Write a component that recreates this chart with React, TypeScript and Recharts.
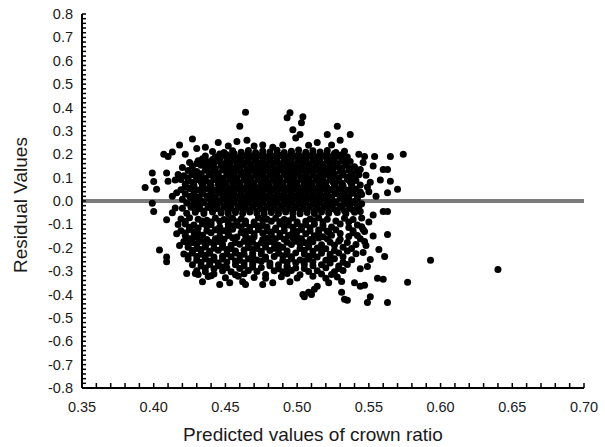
import { ScatterChart, Scatter, XAxis, YAxis, ReferenceLine } from 'recharts'

// tick labels as printed on the figure
const xTickLabels = ['0.35', '0.40', '0.45', '0.50', '0.55', '0.60', '0.65', '0.70']
const yTickLabels = ['0.8', '0.7', '0.6', '0.5', '0.4', '0.3', '0.2', '0.1', '0.0', '-0.1', '-0.2', '-0.3', '-0.4', '-0.5', '-0.6', '-0.7', '-0.8']

// [predicted crown ratio, residual], dense band above zero
const upperCloud: [number, number][] = [
  [0.441,0.212],[0.449,0.207],[0.455,0.215],[0.461,0.209],[0.466,0.216],[0.471,0.208],[0.476,0.214],[0.481,0.21],[0.486,0.217],[0.491,0.208],[0.496,0.213],[0.501,0.218],[0.506,0.209],[0.511,0.215],[0.516,0.21],[0.521,0.216],[0.527,0.208],[0.533,0.213],
  [0.436,0.192],[0.443,0.188],[0.448,0.195],[0.453,0.19],[0.458,0.186],[0.463,0.193],[0.468,0.189],[0.473,0.194],[0.478,0.187],[0.483,0.191],[0.488,0.195],[0.493,0.188],[0.498,0.192],[0.503,0.187],[0.508,0.194],[0.513,0.189],[0.518,0.193],[0.523,0.187],[0.529,0.192],[0.535,0.188],
  [0.431,0.172],[0.438,0.168],[0.445,0.171],[0.451,0.166],[0.456,0.173],[0.461,0.169],[0.466,0.166],[0.471,0.172],[0.476,0.168],[0.481,0.173],[0.486,0.167],[0.491,0.171],[0.496,0.166],[0.501,0.172],[0.506,0.168],[0.511,0.173],[0.516,0.167],[0.521,0.171],[0.526,0.166],[0.531,0.172],[0.537,0.169],
  [0.427,0.148],[0.433,0.153],[0.44,0.149],[0.447,0.152],[0.453,0.147],[0.458,0.151],[0.463,0.155],[0.468,0.148],[0.473,0.152],[0.478,0.147],[0.483,0.153],[0.488,0.149],[0.493,0.152],[0.498,0.146],[0.503,0.151],[0.508,0.148],[0.513,0.153],[0.518,0.147],[0.523,0.151],[0.528,0.148],[0.534,0.153],[0.54,0.147],
  [0.424,0.13],[0.43,0.126],[0.436,0.132],[0.442,0.128],[0.448,0.133],[0.454,0.127],[0.459,0.131],[0.464,0.126],[0.469,0.132],[0.474,0.128],[0.479,0.131],[0.484,0.127],[0.489,0.133],[0.494,0.129],[0.499,0.126],[0.504,0.132],[0.509,0.128],[0.514,0.133],[0.519,0.127],[0.524,0.131],[0.53,0.126],[0.536,0.132],[0.542,0.128],
  [0.421,0.108],[0.427,0.112],[0.433,0.107],[0.439,0.111],[0.445,0.106],[0.451,0.112],[0.456,0.108],[0.461,0.113],[0.466,0.107],[0.471,0.111],[0.476,0.106],[0.481,0.112],[0.486,0.108],[0.491,0.113],[0.496,0.107],[0.501,0.111],[0.506,0.106],[0.511,0.112],[0.516,0.108],[0.521,0.113],[0.526,0.107],[0.532,0.111],[0.538,0.106],[0.543,0.112],
  [0.419,0.092],[0.424,0.087],[0.43,0.091],[0.436,0.086],[0.442,0.092],[0.448,0.088],[0.453,0.093],[0.458,0.087],[0.463,0.091],[0.468,0.086],[0.473,0.092],[0.478,0.088],[0.483,0.093],[0.488,0.087],[0.493,0.091],[0.498,0.086],[0.503,0.092],[0.508,0.088],[0.513,0.093],[0.518,0.087],[0.523,0.091],[0.529,0.086],[0.535,0.092],[0.541,0.088],
  [0.422,0.072],[0.428,0.067],[0.434,0.071],[0.44,0.066],[0.445,0.072],[0.45,0.068],[0.455,0.073],[0.46,0.067],[0.465,0.071],[0.47,0.066],[0.475,0.072],[0.48,0.068],[0.485,0.073],[0.49,0.067],[0.495,0.071],[0.5,0.066],[0.505,0.072],[0.51,0.068],[0.515,0.073],[0.52,0.067],[0.526,0.071],[0.532,0.066],[0.538,0.072],[0.544,0.068],
  [0.419,0.048],[0.425,0.053],[0.431,0.047],[0.437,0.052],[0.443,0.046],[0.448,0.051],[0.453,0.047],[0.458,0.053],[0.463,0.048],[0.468,0.052],[0.473,0.046],[0.478,0.051],[0.483,0.047],[0.488,0.053],[0.493,0.048],[0.498,0.052],[0.503,0.046],[0.508,0.051],[0.513,0.047],[0.518,0.053],[0.523,0.048],[0.529,0.052],[0.535,0.046],[0.541,0.051],
  [0.422,0.031],[0.428,0.026],[0.434,0.032],[0.44,0.027],[0.446,0.033],[0.451,0.028],[0.456,0.032],[0.461,0.026],[0.466,0.031],[0.471,0.027],[0.476,0.033],[0.481,0.028],[0.486,0.032],[0.491,0.026],[0.496,0.031],[0.501,0.027],[0.506,0.033],[0.511,0.028],[0.516,0.032],[0.521,0.026],[0.527,0.031],[0.533,0.027],[0.539,0.033],[0.545,0.028],
  [0.42,0.008],[0.426,0.013],[0.432,0.007],[0.438,0.012],[0.443,0.006],[0.448,0.011],[0.453,0.007],[0.458,0.013],[0.463,0.008],[0.468,0.012],[0.473,0.006],[0.478,0.011],[0.483,0.007],[0.488,0.013],[0.493,0.008],[0.498,0.012],[0.503,0.006],[0.508,0.011],[0.513,0.007],[0.518,0.013],[0.524,0.008],[0.53,0.012],[0.536,0.006],[0.542,0.011],
  [0.423,-0.009],[0.429,-0.013],[0.435,-0.008],[0.441,-0.012],[0.446,-0.007],[0.451,-0.013],[0.456,-0.008],[0.461,-0.012],[0.466,-0.007],[0.471,-0.013],[0.476,-0.008],[0.481,-0.012],[0.486,-0.007],[0.491,-0.013],[0.496,-0.008],[0.501,-0.012],[0.506,-0.007],[0.511,-0.013],[0.516,-0.008],[0.521,-0.012],[0.527,-0.007],[0.533,-0.013],[0.539,-0.008],[0.545,-0.012],
  [0.42,-0.031],[0.426,-0.027],[0.432,-0.033],[0.438,-0.028],[0.444,-0.032],[0.449,-0.026],[0.454,-0.031],[0.459,-0.027],[0.464,-0.033],[0.469,-0.028],[0.474,-0.032],[0.479,-0.026],[0.484,-0.031],[0.489,-0.027],[0.494,-0.033],[0.499,-0.028],[0.504,-0.032],[0.509,-0.026],[0.514,-0.031],[0.519,-0.027],[0.525,-0.033],[0.531,-0.028],[0.537,-0.032],[0.543,-0.027],
  [0.423,-0.052],[0.429,-0.048],[0.435,-0.053],[0.441,-0.047],[0.447,-0.051],[0.452,-0.055],[0.457,-0.049],[0.462,-0.053],[0.467,-0.047],[0.472,-0.052],[0.477,-0.056],[0.482,-0.049],[0.487,-0.053],[0.492,-0.047],[0.497,-0.052],[0.502,-0.055],[0.507,-0.049],[0.512,-0.053],[0.517,-0.047],[0.522,-0.052],[0.528,-0.049],[0.534,-0.054],[0.54,-0.048],
]

// points lying between the rows above, where the cloud is solid black
const upperFill: [number, number][] = [
  [0.446,0.201],[0.451,0.198],[0.456,0.203],[0.461,0.199],[0.466,0.202],[0.471,0.197],[0.476,0.201],[0.481,0.199],[0.486,0.203],[0.491,0.198],[0.496,0.202],[0.501,0.199],[0.506,0.201],[0.511,0.197],[0.516,0.202],[0.521,0.199],[0.526,0.203],[0.531,0.198],
  [0.434,0.181],[0.441,0.178],[0.446,0.182],[0.451,0.179],[0.456,0.183],[0.461,0.178],[0.466,0.181],[0.471,0.177],[0.476,0.182],[0.481,0.179],[0.486,0.183],[0.491,0.178],[0.496,0.181],[0.501,0.177],[0.506,0.182],[0.511,0.179],[0.516,0.183],[0.521,0.178],[0.526,0.181],[0.532,0.179],
  [0.43,0.16],[0.436,0.158],[0.442,0.162],[0.448,0.159],[0.453,0.161],[0.458,0.157],[0.463,0.162],[0.468,0.158],[0.473,0.161],[0.478,0.157],[0.483,0.162],[0.488,0.159],[0.493,0.161],[0.498,0.157],[0.503,0.162],[0.508,0.158],[0.513,0.161],[0.518,0.157],[0.523,0.162],[0.528,0.158],[0.534,0.161],
  [0.437,0.141],[0.443,0.138],[0.449,0.142],[0.455,0.139],[0.46,0.141],[0.465,0.137],[0.47,0.142],[0.475,0.138],[0.48,0.141],[0.485,0.137],[0.49,0.142],[0.495,0.139],[0.5,0.141],[0.505,0.137],[0.51,0.142],[0.515,0.138],[0.52,0.141],[0.525,0.137],[0.531,0.142],[0.537,0.139],
  [0.427,0.12],[0.433,0.117],[0.439,0.121],[0.445,0.118],[0.451,0.122],[0.456,0.119],[0.461,0.121],[0.466,0.117],[0.471,0.122],[0.476,0.118],[0.481,0.121],[0.486,0.117],[0.491,0.122],[0.496,0.119],[0.501,0.121],[0.506,0.117],[0.511,0.122],[0.516,0.118],[0.521,0.121],[0.526,0.117],[0.532,0.122],[0.538,0.119],
  [0.424,0.099],[0.43,0.102],[0.436,0.098],[0.442,0.101],[0.448,0.097],[0.453,0.102],[0.458,0.098],[0.463,0.101],[0.468,0.097],[0.473,0.102],[0.478,0.098],[0.483,0.101],[0.488,0.097],[0.493,0.102],[0.498,0.098],[0.503,0.101],[0.508,0.097],[0.513,0.102],[0.518,0.098],[0.523,0.101],[0.529,0.097],[0.535,0.102],[0.54,0.099],
  [0.427,0.079],[0.433,0.082],[0.439,0.078],[0.445,0.081],[0.45,0.077],[0.455,0.082],[0.46,0.078],[0.465,0.081],[0.47,0.077],[0.475,0.082],[0.48,0.078],[0.485,0.081],[0.49,0.077],[0.495,0.082],[0.5,0.078],[0.505,0.081],[0.51,0.077],[0.515,0.082],[0.52,0.078],[0.525,0.081],[0.531,0.077],[0.537,0.082],
  [0.422,0.06],[0.428,0.057],[0.434,0.061],[0.44,0.058],[0.446,0.062],[0.451,0.059],[0.456,0.061],[0.461,0.057],[0.466,0.062],[0.471,0.058],[0.476,0.061],[0.481,0.057],[0.486,0.062],[0.491,0.058],[0.496,0.061],[0.501,0.057],[0.506,0.062],[0.511,0.058],[0.516,0.061],[0.521,0.057],[0.526,0.062],[0.532,0.058],[0.538,0.061],
  [0.428,0.039],[0.434,0.042],[0.44,0.038],[0.446,0.041],[0.451,0.037],[0.456,0.042],[0.461,0.038],[0.466,0.041],[0.471,0.037],[0.476,0.042],[0.481,0.038],[0.486,0.041],[0.491,0.037],[0.496,0.042],[0.501,0.038],[0.506,0.041],[0.511,0.037],[0.516,0.042],[0.521,0.038],[0.526,0.041],[0.532,0.037],[0.538,0.042],[0.544,0.039],
  [0.425,0.02],[0.431,0.017],[0.437,0.021],[0.443,0.018],[0.449,0.022],[0.454,0.019],[0.459,0.021],[0.464,0.017],[0.469,0.022],[0.474,0.018],[0.479,0.021],[0.484,0.017],[0.489,0.022],[0.494,0.018],[0.499,0.021],[0.504,0.017],[0.509,0.022],[0.514,0.018],[0.519,0.021],[0.524,0.017],[0.53,0.022],[0.536,0.018],[0.542,0.021],
  [0.428,0.0],[0.434,-0.002],[0.44,0.002],[0.446,-0.001],[0.451,0.003],[0.456,-0.002],[0.461,0.001],[0.466,-0.003],[0.471,0.002],[0.476,-0.001],[0.481,0.003],[0.486,-0.002],[0.491,0.001],[0.496,-0.003],[0.501,0.002],[0.506,-0.001],[0.511,0.003],[0.516,-0.002],[0.521,0.001],[0.527,-0.003],[0.533,0.002],[0.54,-0.001],
  [0.426,-0.02],[0.432,-0.018],[0.438,-0.022],[0.444,-0.019],[0.449,-0.021],[0.454,-0.017],[0.459,-0.022],[0.464,-0.018],[0.469,-0.021],[0.474,-0.017],[0.479,-0.022],[0.484,-0.018],[0.489,-0.021],[0.494,-0.017],[0.499,-0.022],[0.504,-0.018],[0.509,-0.021],[0.514,-0.017],[0.519,-0.022],[0.524,-0.018],[0.53,-0.021],[0.536,-0.017],[0.542,-0.02],
  [0.429,-0.04],[0.435,-0.043],[0.441,-0.038],[0.447,-0.042],[0.452,-0.039],[0.457,-0.043],[0.462,-0.038],[0.467,-0.041],[0.472,-0.044],[0.477,-0.039],[0.482,-0.042],[0.487,-0.038],[0.492,-0.043],[0.497,-0.039],[0.502,-0.042],[0.507,-0.038],[0.512,-0.043],[0.517,-0.039],[0.522,-0.041],[0.527,-0.038],[0.533,-0.042],[0.539,-0.039],
]

// patchier band below zero
const lowerCloud: [number, number][] = [
  [0.419,-0.077],[0.425,-0.072],[0.431,-0.078],[0.443,-0.073],[0.449,-0.079],[0.455,-0.074],[0.461,-0.077],[0.473,-0.072],[0.479,-0.078],[0.485,-0.074],[0.491,-0.079],[0.497,-0.073],[0.509,-0.077],[0.515,-0.072],[0.521,-0.078],[0.533,-0.074],[0.539,-0.079],[0.545,-0.073],
  [0.422,-0.098],[0.428,-0.103],[0.434,-0.097],[0.44,-0.102],[0.452,-0.099],[0.458,-0.104],[0.464,-0.097],[0.47,-0.101],[0.476,-0.105],[0.488,-0.098],[0.494,-0.103],[0.5,-0.097],[0.506,-0.102],[0.512,-0.099],[0.518,-0.104],[0.53,-0.098],[0.542,-0.103],
  [0.419,-0.127],[0.425,-0.122],[0.437,-0.128],[0.443,-0.123],[0.449,-0.127],[0.455,-0.121],[0.467,-0.126],[0.473,-0.122],[0.479,-0.128],[0.485,-0.123],[0.491,-0.127],[0.503,-0.122],[0.509,-0.128],[0.515,-0.124],[0.521,-0.129],[0.527,-0.123],[0.539,-0.127],[0.546,-0.122],
  [0.422,-0.148],[0.428,-0.153],[0.434,-0.147],[0.446,-0.152],[0.452,-0.148],[0.458,-0.154],[0.464,-0.149],[0.47,-0.153],[0.482,-0.147],[0.488,-0.152],[0.494,-0.148],[0.5,-0.154],[0.512,-0.149],[0.518,-0.153],[0.524,-0.147],[0.536,-0.152],[0.542,-0.148],
  [0.421,-0.173],[0.427,-0.178],[0.433,-0.172],[0.439,-0.177],[0.445,-0.173],[0.457,-0.178],[0.463,-0.172],[0.469,-0.176],[0.475,-0.179],[0.481,-0.173],[0.493,-0.177],[0.499,-0.172],[0.505,-0.178],[0.511,-0.174],[0.523,-0.177],[0.529,-0.172],[0.535,-0.178],[0.547,-0.173],
  [0.424,-0.198],[0.43,-0.203],[0.436,-0.197],[0.442,-0.202],[0.448,-0.198],[0.454,-0.204],[0.466,-0.199],[0.472,-0.203],[0.478,-0.197],[0.484,-0.202],[0.49,-0.198],[0.502,-0.203],[0.508,-0.197],[0.514,-0.201],[0.52,-0.204],[0.532,-0.198],[0.538,-0.203],
  [0.421,-0.227],[0.427,-0.222],[0.433,-0.228],[0.439,-0.223],[0.451,-0.227],[0.457,-0.222],[0.463,-0.228],[0.469,-0.224],[0.475,-0.227],[0.487,-0.223],[0.493,-0.228],[0.499,-0.222],[0.505,-0.227],[0.517,-0.223],[0.523,-0.228],[0.529,-0.222],[0.541,-0.226],
  [0.424,-0.248],[0.43,-0.253],[0.436,-0.247],[0.442,-0.252],[0.448,-0.248],[0.46,-0.253],[0.466,-0.247],[0.472,-0.252],[0.478,-0.248],[0.49,-0.253],[0.496,-0.247],[0.502,-0.252],[0.508,-0.248],[0.52,-0.253],[0.526,-0.247],[0.538,-0.251],
  [0.427,-0.273],[0.433,-0.278],[0.439,-0.272],[0.445,-0.277],[0.457,-0.273],[0.463,-0.278],[0.469,-0.272],[0.481,-0.277],[0.487,-0.273],[0.493,-0.278],[0.505,-0.272],[0.511,-0.277],[0.517,-0.273],[0.529,-0.278],[0.535,-0.272],
  [0.43,-0.298],[0.436,-0.303],[0.448,-0.298],[0.454,-0.303],[0.466,-0.297],[0.472,-0.302],[0.484,-0.298],[0.49,-0.303],[0.496,-0.297],[0.508,-0.302],[0.514,-0.298],[0.526,-0.303],[0.532,-0.297],
  [0.438,-0.323],[0.45,-0.328],[0.459,-0.322],[0.47,-0.327],[0.478,-0.331],[0.489,-0.324],[0.5,-0.329],[0.511,-0.322],[0.52,-0.33],[0.528,-0.325],
]

const lowerFill: [number, number][] = [
  [0.422,-0.088],[0.434,-0.086],[0.44,-0.09],[0.446,-0.087],[0.458,-0.089],[0.464,-0.086],[0.47,-0.09],[0.482,-0.087],[0.488,-0.089],[0.494,-0.085],[0.5,-0.09],[0.506,-0.087],[0.518,-0.089],[0.527,-0.086],[0.536,-0.09],
  [0.425,-0.112],[0.431,-0.115],[0.446,-0.111],[0.452,-0.114],[0.461,-0.11],[0.467,-0.113],[0.479,-0.111],[0.485,-0.115],[0.497,-0.112],[0.503,-0.11],[0.509,-0.114],[0.524,-0.111],[0.536,-0.113],[0.545,-0.11],
  [0.422,-0.137],[0.431,-0.14],[0.44,-0.136],[0.452,-0.139],[0.461,-0.135],[0.47,-0.14],[0.476,-0.137],[0.488,-0.139],[0.497,-0.136],[0.506,-0.14],[0.515,-0.137],[0.53,-0.139],[0.539,-0.136],
  [0.425,-0.162],[0.437,-0.165],[0.443,-0.161],[0.449,-0.164],[0.467,-0.162],[0.476,-0.165],[0.485,-0.161],[0.491,-0.164],[0.503,-0.162],[0.509,-0.165],[0.521,-0.161],[0.53,-0.164],[0.544,-0.162],
  [0.424,-0.187],[0.436,-0.19],[0.448,-0.186],[0.454,-0.189],[0.46,-0.185],[0.472,-0.19],[0.478,-0.187],[0.487,-0.189],[0.496,-0.186],[0.508,-0.19],[0.517,-0.187],[0.526,-0.189],[0.541,-0.186],
  [0.427,-0.212],[0.439,-0.215],[0.445,-0.211],[0.457,-0.214],[0.463,-0.21],[0.475,-0.215],[0.481,-0.212],[0.493,-0.214],[0.505,-0.211],[0.511,-0.215],[0.526,-0.212],[0.535,-0.214],
  [0.43,-0.237],[0.442,-0.24],[0.448,-0.236],[0.454,-0.239],[0.469,-0.235],[0.478,-0.24],[0.484,-0.237],[0.496,-0.239],[0.508,-0.236],[0.514,-0.24],[0.523,-0.237],[0.532,-0.239],
  [0.433,-0.262],[0.445,-0.265],[0.451,-0.261],[0.463,-0.264],[0.469,-0.26],[0.481,-0.265],[0.493,-0.262],[0.499,-0.264],[0.511,-0.261],[0.523,-0.265],[0.532,-0.262],
  [0.436,-0.287],[0.442,-0.29],[0.451,-0.286],[0.46,-0.289],[0.475,-0.285],[0.487,-0.29],[0.499,-0.287],[0.505,-0.289],[0.52,-0.286],[0.529,-0.289],
  [0.442,-0.312],[0.457,-0.315],[0.463,-0.311],[0.478,-0.314],[0.493,-0.31],[0.502,-0.315],[0.517,-0.312],[0.524,-0.314],
  [0.437,-0.082],[0.452,-0.083],[0.476,-0.082],[0.512,-0.084],[0.437,-0.108],[0.455,-0.106],[0.473,-0.107],[0.491,-0.109],[0.518,-0.115],
  [0.428,-0.132],[0.446,-0.131],[0.464,-0.131],[0.482,-0.133],[0.5,-0.131],[0.522,-0.133],[0.431,-0.158],[0.455,-0.157],[0.479,-0.159],[0.497,-0.157],[0.515,-0.158],
  [0.43,-0.184],[0.442,-0.182],[0.466,-0.183],[0.484,-0.181],[0.502,-0.183],[0.433,-0.208],[0.451,-0.207],[0.469,-0.208],[0.487,-0.206],[0.517,-0.208],
  [0.424,-0.234],[0.436,-0.232],[0.46,-0.233],[0.49,-0.234],[0.511,-0.231],[0.439,-0.258],[0.457,-0.257],[0.475,-0.258],[0.505,-0.257],[0.448,-0.282],[0.469,-0.283],[0.493,-0.282],
]

const leftFringe: [number, number][] = [
  [0.394,0.058],[0.399,0.12],[0.4,0.083],[0.402,0.05],[0.399,-0.01],[0.4,-0.045],[0.404,-0.21],[0.409,-0.24],[0.409,-0.26],
  [0.407,0.2],[0.41,0.19],[0.413,0.21],[0.409,0.12],[0.41,0.085],[0.409,-0.08],[0.413,-0.05],[0.415,0.09],[0.417,0.113],
  [0.42,0.143],[0.422,0.2],[0.425,0.165],[0.413,0.02],[0.416,0.035],[0.415,-0.03],[0.417,-0.1],[0.416,-0.14],[0.418,-0.19],
]

const topFringe: [number, number][] = [
  [0.418,0.24],[0.427,0.265],[0.436,0.23],[0.43,0.225],[0.445,0.25],[0.458,0.255],[0.465,0.26],[0.464,0.38],[0.46,0.32],
  [0.483,0.23],[0.493,0.356],[0.495,0.378],[0.497,0.305],[0.499,0.27],[0.502,0.285],[0.503,0.335],[0.504,0.36],[0.514,0.25],
  [0.521,0.285],[0.528,0.32],[0.53,0.26],[0.537,0.285],[0.47,0.235],[0.476,0.24],[0.49,0.24],[0.508,0.238],[0.452,0.235],[0.524,0.24],
]

const rightFringe: [number, number][] = [
  [0.544,0.135],[0.547,0.19],[0.554,0.19],[0.565,0.19],[0.574,0.2],[0.553,0.15],[0.56,0.135],[0.563,0.135],[0.57,0.05],
  [0.563,0.035],[0.558,0.09],[0.565,0.085],[0.551,0.08],[0.548,0.11],[0.55,0.04],[0.546,0.165],[0.543,0.2],[0.555,0.02],[0.549,0.06],
  [0.56,-0.045],[0.563,-0.045],[0.544,-0.045],[0.561,-0.237],[0.563,-0.143],[0.557,-0.207],[0.551,-0.25],[0.56,-0.335],[0.556,-0.33],
  [0.551,-0.41],[0.549,-0.28],[0.553,-0.15],[0.547,-0.13],[0.548,-0.19],[0.544,-0.29],[0.55,-0.09],[0.553,-0.06],[0.546,-0.22],
]

const bottomFringe: [number, number][] = [
  [0.423,-0.31],[0.429,-0.31],[0.431,-0.314],[0.434,-0.345],[0.44,-0.32],[0.446,-0.357],[0.453,-0.35],[0.462,-0.345],[0.464,-0.357],
  [0.476,-0.357],[0.483,-0.35],[0.504,-0.4],[0.508,-0.39],[0.514,-0.365],[0.51,-0.4],[0.505,-0.41],[0.512,-0.378],[0.531,-0.344],
  [0.531,-0.39],[0.533,-0.42],[0.535,-0.425],[0.544,-0.365],[0.547,-0.36],[0.549,-0.434],[0.54,-0.35],[0.495,-0.345],[0.522,-0.35],
]

const outliers: [number, number][] = [
  [0.563,-0.434],[0.577,-0.348],[0.593,-0.254],[0.64,-0.293],
]

const points = [
  ...upperCloud, ...upperFill, ...lowerCloud, ...lowerFill,
  ...leftFringe, ...topFringe, ...rightFringe, ...bottomFringe, ...outliers,
].map(([x, y]) => ({ x, y }))

// minor ticks every 0.01 on x and 0.02 on y
const xTicks = Array.from({ length: 36 }, (_, i) => Math.round((0.35 + i * 0.01) * 100) / 100)
const yTicks = Array.from({ length: 81 }, (_, i) => Math.round((-0.8 + i * 0.02) * 100) / 100)

const textColor = '#1a1a1a'

// every tick gets a short inward mark; only the 0.05 / 0.1 ones carry a label
const XTick = ({ x, y, payload }: any) => {
  const label = xTickLabels.find((t) => Math.abs(Number(t) - payload.value) < 1e-6)
  return (
    <g>
      <rect x={x - 0.75} y={y - 5} width={1.5} height={5} fill="#000" />
      {label && (
        <text x={x} y={y + 24} textAnchor="middle" fontSize={14.5} fill={textColor}>
          {label}
        </text>
      )}
    </g>
  )
}

const YTick = ({ x, y, payload }: any) => {
  const label = yTickLabels.find((t) => Math.abs(Number(t) - payload.value) < 1e-6)
  return (
    <g>
      <rect x={x} y={y - 0.75} width={4} height={1.5} fill="#000" />
      {label && (
        <text x={x - 9} y={y + 5} textAnchor="end" fontSize={14.5} fill={textColor}>
          {label}
        </text>
      )}
    </g>
  )
}

const Dot = (props: any) => <circle cx={props.cx} cy={props.cy} r={3.5} fill="#000" />

export default function App() {
  return (
    <div style={{ position: 'absolute', left: 0, top: 0, fontFamily: 'Arial, "Liberation Sans", sans-serif', background: '#fff' }}>
      <ScatterChart width={605} height={447} margin={{ top: 14, right: 21, left: 0, bottom: 0 }}>
        <XAxis
          type="number"
          dataKey="x"
          domain={[0.35, 0.7]}
          ticks={xTicks}
          interval={0}
          tickSize={0}
          tickMargin={0}
          tickLine={false}
          tick={<XTick />}
          height={59}
          axisLine={{ stroke: '#000', strokeWidth: 2 }}
          allowDataOverflow
          label={{
            content: ({ viewBox }: any) => (
              <text x={viewBox.x + viewBox.width / 2 - 20} y={viewBox.y + 53} textAnchor="middle" fontSize={19} fill={textColor}>
                Predicted values of crown ratio
              </text>
            ),
          }}
        />
        <YAxis
          type="number"
          dataKey="y"
          domain={[-0.8, 0.8]}
          ticks={yTicks}
          interval={0}
          tickSize={0}
          tickMargin={0}
          tickLine={false}
          tick={<YTick />}
          width={82}
          axisLine={{ stroke: '#000', strokeWidth: 2 }}
          allowDataOverflow
          label={{
            content: ({ viewBox }: any) => (
              <text
                transform={`translate(${viewBox.x + 27}, ${viewBox.y + viewBox.height / 2 + 4}) rotate(-90)`}
                textAnchor="middle"
                fontSize={19}
                fill={textColor}
              >
                Residual Values
              </text>
            ),
          }}
        />
        <Scatter data={points} shape={Dot} isAnimationActive={false} />
        <ReferenceLine y={0} stroke="#7b7b7b" strokeWidth={4} />
      </ScatterChart>
    </div>
  )
}
